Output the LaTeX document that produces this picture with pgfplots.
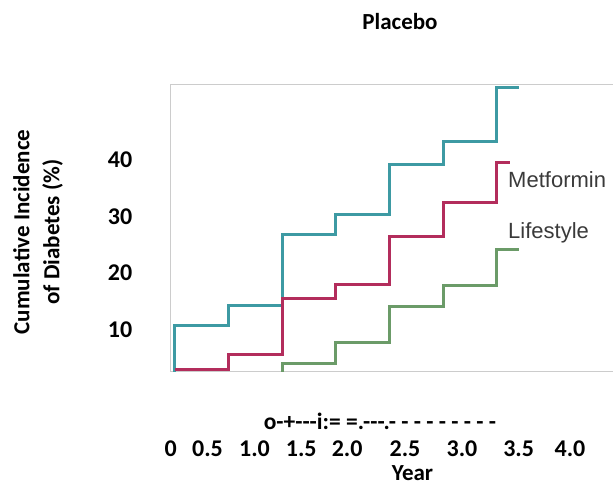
\documentclass[border=0pt]{standalone}
\usepackage{pgfplots}
\pgfplotsset{compat=1.18}
\usepackage{fontspec}
\setmainfont{Carlito}
\newfontfamily\arialfont{Liberation Sans}
\definecolor{cplac}{HTML}{3D9AA3}
\definecolor{cmet}{HTML}{B32D5C}
\definecolor{clife}{HTML}{6B9B68}
\definecolor{boxgray}{HTML}{CCCCCC}
\definecolor{txtgray}{HTML}{3A3A3A}
\begin{document}
\begin{tikzpicture}[x=1pt,y=1pt]
\path[use as bounding box] (0,0) rectangle (613,486);
\begin{axis}[
  at={(170.7pt,114.3pt)}, anchor=south west,
  x=107.33pt, y=5.67pt,
  xmin=-0.04, xmax=4.08, ymin=2.59, ymax=53.2,
  axis line style={draw=none},
  clip=false,
  major tick length=0pt,
  xtick={-0.039,0.303,0.741,1.176,1.604,2.143,2.674,3.202,3.680},
  xticklabels={0,0.5,1.0,1.5,2.0,2.5,3.0,3.5,4.0},
  ytick={10,20,30,40},
  yticklabels={10,20,30,40},
  tick label style={font=\bfseries\fontsize{24}{28}\selectfont, text=black},
  xticklabel style={anchor=center, yshift=-77.3pt},
  yticklabel style={anchor=center, xshift=-50.7pt},
]
\draw[boxgray, line width=1pt] (rel axis cs:1,1) -- (rel axis cs:0,1) -- (rel axis cs:0,0) -- (rel axis cs:1,0);
\addplot[const plot, cplac, line width=3pt] coordinates {
 (0,2.59) (0,10.7) (0.5,14.2) (1.0,26.8) (1.5,30.3) (2.0,39.1) (2.5,43.2) (3.0,52.7) (3.205,52.7)};
\addplot[const plot, cmet, line width=3pt] coordinates {
 (0,2.9) (0.5,5.6) (1.0,15.5) (1.5,17.9) (2.0,26.4) (2.5,32.4) (3.0,39.5) (3.12,39.5)};
\addplot[const plot, clife, line width=3pt] coordinates {
 (1.0,2.59) (1.0,4.0) (1.5,7.7) (2.0,14.1) (2.5,17.8) (3.0,24.1) (3.205,24.1)};
\node[anchor=base west, inner sep=0pt, text=txtgray, font=\arialfont\fontsize{22}{26}\selectfont] at (axis cs:3.103,35.0) {Metformin};
\node[anchor=base west, inner sep=0pt, text=txtgray, font=\arialfont\fontsize{22}{26}\selectfont] at (axis cs:3.103,26.0) {Lifestyle};
\end{axis}
\node[anchor=base, inner sep=0pt, font=\bfseries\fontsize{23}{28}\selectfont] at (400,456) {Placebo};
\node[rotate=90, align=center, inner sep=0pt, font=\bfseries\fontsize{23}{30}\selectfont] at (38,254) {Cumulative Incidence\\of Diabetes (\%)};
\node[anchor=center, inner sep=0pt, font=\bfseries\fontsize{23.5}{28}\selectfont] at (380,65) {o-{}+-{}-{}-i:= =.-{}-{}-.- - - - - - - - -};
\node[anchor=base, inner sep=0pt, font=\bfseries\fontsize{23}{26}\selectfont] at (412.5,5.5) {Year};
\end{tikzpicture}
\end{document}
